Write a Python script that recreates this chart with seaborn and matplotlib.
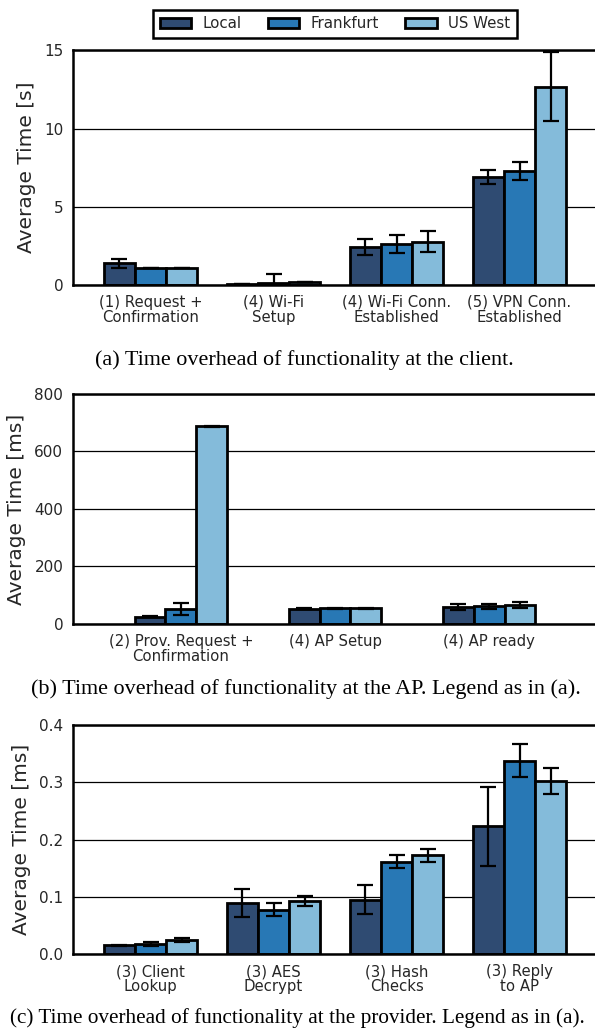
import matplotlib
matplotlib.use("Agg")
import matplotlib.pyplot as plt
import seaborn as sns
import pandas as pd

# Locations and colours
locations = ["Local", "Frankfurt", "US West"]
colors = ["#2f4b72", "#2878b5", "#84bbda"]

# (a) client, seconds
client_steps = ["(1) Request +\nConfirmation", "(4) Wi-Fi\nSetup",
                "(4) Wi-Fi Conn.\nEstablished", "(5) VPN Conn.\nEstablished"]
client_local = [1.39, 0.08, 2.43, 6.90]
client_frankfurt = [1.11, 0.12, 2.64, 7.29]
client_uswest = [1.11, 0.16, 2.77, 12.68]
client_local_err = [0.29, 0.0, 0.52, 0.47]
client_frankfurt_err = [0.0, 0.58, 0.58, 0.59]
client_uswest_err = [0.0, 0.0, 0.66, 2.2]

# (b) AP, milliseconds
ap_steps = ["(2) Prov. Request +\nConfirmation", "(4) AP Setup", "(4) AP ready"]
ap_local = [25, 53, 59]
ap_frankfurt = [52, 55, 61]
ap_uswest = [688, 54, 66]
ap_local_err = [1, 1, 10]
ap_frankfurt_err = [20, 2, 10]
ap_uswest_err = [2, 1, 12]

# (c) provider, milliseconds
prov_steps = ["(3) Client\nLookup", "(3) AES\nDecrypt", "(3) Hash\nChecks", "(3) Reply\nto AP"]
prov_local = [0.0157, 0.0894, 0.0952, 0.2229]
prov_frankfurt = [0.0174, 0.0778, 0.1614, 0.3373]
prov_uswest = [0.025, 0.0923, 0.1724, 0.3025]
prov_local_err = [0.001, 0.025, 0.025, 0.069]
prov_frankfurt_err = [0.0035, 0.011, 0.0116, 0.0287]
prov_uswest_err = [0.004, 0.0087, 0.0113, 0.0225]

sns.set_theme(style="white")
plt.rcParams["font.family"] = ["DejaVu Sans"]


def draw(ax, steps, vals, errs, width, xlim, ylim, yticks, ylabel, legend=False):
    df = pd.DataFrame({
        "step": steps * 3,
        "loc": [l for l in locations for _ in steps],
        "time": vals[0] + vals[1] + vals[2],
    })
    sns.barplot(data=df, x="step", y="time", hue="loc", hue_order=locations,
                palette=colors, width=width, edgecolor="black", linewidth=2.0,
                errorbar=None, legend=legend, ax=ax, saturation=1)
    # error bars on top of each bar
    for cont, e in zip(ax.containers, errs):
        xs = [b.get_x() + b.get_width() / 2 for b in cont]
        hs = [b.get_height() for b in cont]
        ax.errorbar(xs, hs, yerr=e, fmt="none", ecolor="black",
                    elinewidth=1.6, capsize=5.5, capthick=1.6, zorder=5)
    ax.set_xlim(*xlim)
    ax.set_ylim(*ylim)
    ax.set_yticks(yticks)
    ax.set_xlabel("")
    ax.set_ylabel(ylabel, fontsize=14.5, labelpad=6)
    ax.yaxis.grid(True, color="black", linewidth=0.9)
    ax.set_axisbelow(True)
    for side in ["left", "top", "bottom", "right"]:
        ax.spines[side].set_color("black")
        ax.spines[side].set_linewidth(1.8)
    ax.tick_params(axis="y", direction="in", length=7, width=1.2, labelsize=11, pad=7)
    ax.tick_params(axis="x", length=0, labelsize=10.7, pad=7)
    for t in ax.get_xticklabels():
        t.set_linespacing(1.03)


fig = plt.figure(figsize=(5.95, 10.3), dpi=100)
ax_a = fig.add_axes([0.1227, 0.7233, 0.8807, 0.2279])
ax_b = fig.add_axes([0.1227, 0.3942, 0.8807, 0.2233])
ax_c = fig.add_axes([0.1227, 0.0735, 0.8807, 0.2229])

draw(ax_a, client_steps, [client_local, client_frankfurt, client_uswest],
     [client_local_err, client_frankfurt_err, client_uswest_err],
     0.76, (-0.63, 3.63), (0, 15), [0, 5, 10, 15], "Average Time [s]", legend=True)
draw(ax_b, ap_steps, [ap_local, ap_frankfurt, ap_uswest],
     [ap_local_err, ap_frankfurt_err, ap_uswest_err],
     0.6, (-0.7, 2.7), (0, 800), [0, 200, 400, 600, 800], "Average Time [ms]")
draw(ax_c, prov_steps, [prov_local, prov_frankfurt, prov_uswest],
     [prov_local_err, prov_frankfurt_err, prov_uswest_err],
     0.76, (-0.63, 3.63), (0, 0.4), [0.0, 0.1, 0.2, 0.3, 0.4], "Average Time [ms]")

leg = ax_a.legend(ncol=3, loc="lower center", bbox_to_anchor=(0.5, 1.052),
                  borderaxespad=0, frameon=True, fancybox=False, framealpha=1,
                  edgecolor="black", fontsize=10.8, handlelength=2.1,
                  handleheight=0.65, handletextpad=0.75, columnspacing=1.75,
                  borderpad=0.45)
leg.get_frame().set_linewidth(1.8)

cap_font = dict(family="Liberation Serif", color="black")
fig.text(304 / 595, 1 - 360 / 1030, "(a) Time overhead of functionality at the client.",
         ha="center", va="center", fontsize=15.9, **cap_font)
fig.text(305.5 / 595, 1 - 689.5 / 1030,
         "(b) Time overhead of functionality at the AP. Legend as in (a).",
         ha="center", va="center", fontsize=15.9, **cap_font)
fig.text(297.5 / 595, 1 - 1018.5 / 1030,
         "(c) Time overhead of functionality at the provider. Legend as in (a).",
         ha="center", va="center", fontsize=15.3, **cap_font)

plt.savefig("out.png", dpi=100)
